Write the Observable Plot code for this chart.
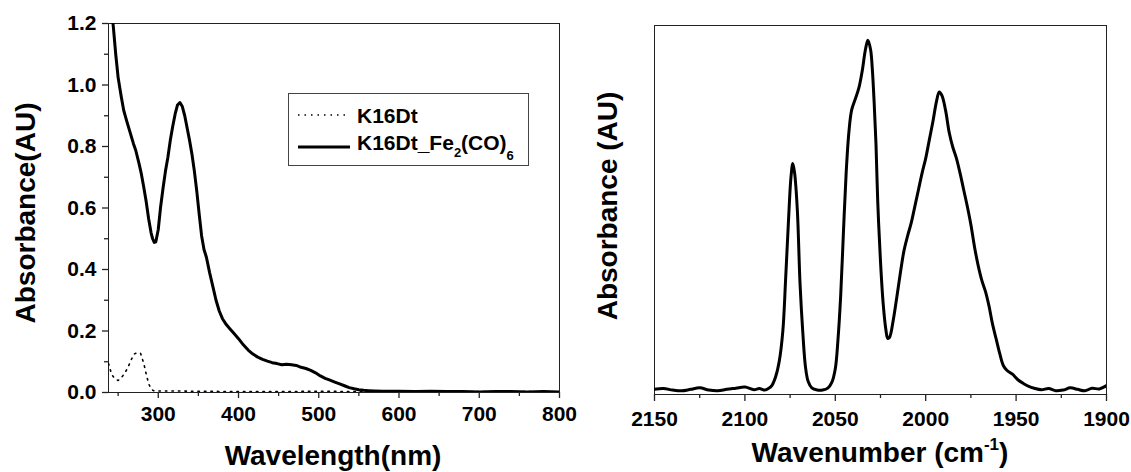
<!DOCTYPE html>
<html>
<head>
<meta charset="utf-8">
<script src="https://cdn.jsdelivr.net/npm/d3@7"></script>
<script src="https://cdn.jsdelivr.net/npm/@observablehq/plot@0.6"></script>
<style>
  html, body { margin: 0; padding: 0; background: #fff; }
  #wrap { display: flex; width: 1131px; height: 472px; background: #fff; }
  svg { display: block; }
</style>
</head>
<body>
<div id="wrap"></div>
<script>
// ---------- Left panel: UV-Vis ----------
const feWavelength = [238, 241, 244, 247, 250, 254, 257, 261, 265, 269, 272, 276, 279, 282, 285, 288, 291, 293, 295, 297, 300, 303, 306, 309, 312, 315, 318, 321, 324, 327, 330, 333, 336, 339, 342, 345, 348, 351, 354, 357, 360, 364, 368, 372, 376, 380, 385, 390, 395, 400, 406, 412, 418, 424, 430, 436, 442, 448, 454, 460, 466, 472, 478, 484, 490, 496, 502, 508, 514, 520, 526, 532, 538, 544, 550, 556, 562, 570, 580, 590, 600, 620, 640, 660, 680, 700, 720, 740, 760, 780, 800];
const feAbsorbance = [1.32, 1.26, 1.19, 1.10, 1.024, 0.96, 0.917, 0.88, 0.845, 0.81, 0.787, 0.745, 0.71, 0.667, 0.62, 0.565, 0.52, 0.50, 0.488, 0.49, 0.53, 0.605, 0.665, 0.72, 0.765, 0.82, 0.865, 0.905, 0.935, 0.943, 0.93, 0.90, 0.86, 0.82, 0.775, 0.72, 0.655, 0.58, 0.51, 0.465, 0.44, 0.39, 0.345, 0.30, 0.265, 0.24, 0.22, 0.205, 0.19, 0.175, 0.155, 0.138, 0.125, 0.115, 0.108, 0.102, 0.097, 0.094, 0.090, 0.092, 0.090, 0.088, 0.082, 0.078, 0.072, 0.064, 0.054, 0.046, 0.040, 0.034, 0.028, 0.022, 0.016, 0.012, 0.009, 0.007, 0.006, 0.005, 0.004, 0.004, 0.004, 0.003, 0.004, 0.003, 0.003, 0.002, 0.003, 0.003, 0.002, 0.003, 0.002];

const kWavelength = [238, 242, 246, 250, 254, 258, 262, 266, 270, 274, 278, 282, 285, 288, 291, 294, 298, 305, 320, 350, 400, 450, 500, 550, 600, 650, 700, 750, 800];
const kAbsorbance = [0.094, 0.058, 0.045, 0.039, 0.048, 0.062, 0.08, 0.105, 0.125, 0.13, 0.127, 0.094, 0.06, 0.029, 0.012, 0.006, 0.005, 0.005, 0.005, 0.004, 0.003, 0.003, 0.004, 0.003, 0.003, 0.002, 0.003, 0.003, 0.002];

const leftXTicks = [300, 400, 500, 600, 700, 800];
const leftXMinor = [250, 350, 450, 550, 650, 750];
const leftYTicks = [0, 0.2, 0.4, 0.6, 0.8, 1.0, 1.2];
const leftYMinor = [0.1, 0.3, 0.5, 0.7, 0.9, 1.1];

// ---------- Right panel: IR ----------
const wavenumber = [2150, 2145, 2140, 2135, 2130, 2125, 2120, 2115, 2110, 2105, 2100, 2095, 2092, 2089, 2087, 2085, 2083, 2081, 2079, 2077.5, 2076, 2074.5, 2073.5, 2072.5, 2071, 2069.5, 2068, 2066.5, 2065, 2063, 2060, 2057, 2054, 2052, 2050, 2048.5, 2047, 2045.5, 2044, 2042.5, 2041, 2039, 2037, 2035, 2033.5, 2032, 2030.5, 2029.5, 2028.5, 2027.5, 2026.5, 2025, 2023.5, 2022, 2021, 2020, 2018, 2016, 2014, 2012, 2010, 2008, 2006, 2004, 2002, 2000, 1998, 1996, 1994, 1992.5, 1991, 1989, 1987, 1985, 1983, 1981, 1979, 1977, 1975, 1973, 1971, 1969, 1967, 1965, 1963, 1961, 1959, 1957, 1955, 1952, 1949, 1946, 1943, 1940, 1936, 1932, 1928, 1924, 1920, 1916, 1912, 1908, 1904, 1900];
const irAbsorbance = [0.014, 0.016, 0.012, 0.010, 0.014, 0.018, 0.012, 0.010, 0.014, 0.017, 0.020, 0.013, 0.016, 0.012, 0.016, 0.025, 0.048, 0.09, 0.173, 0.31, 0.46, 0.59, 0.626, 0.60, 0.50, 0.30, 0.17, 0.075, 0.035, 0.018, 0.012, 0.012, 0.018, 0.032, 0.07, 0.15, 0.27, 0.44, 0.60, 0.71, 0.77, 0.80, 0.83, 0.88, 0.93, 0.96, 0.935, 0.88, 0.79, 0.68, 0.52, 0.36, 0.245, 0.175, 0.152, 0.155, 0.20, 0.263, 0.33, 0.39, 0.43, 0.465, 0.51, 0.555, 0.60, 0.64, 0.69, 0.74, 0.795, 0.82, 0.81, 0.77, 0.71, 0.67, 0.64, 0.60, 0.555, 0.51, 0.46, 0.40, 0.35, 0.31, 0.28, 0.24, 0.19, 0.15, 0.11, 0.078, 0.065, 0.055, 0.04, 0.03, 0.022, 0.017, 0.013, 0.016, 0.010, 0.012, 0.018, 0.014, 0.010, 0.017, 0.015, 0.024];

const rightXTicks = [2150, 2100, 2050, 2000, 1950, 1900];
const rightXMinor = [2125, 2075, 2025, 1975, 1925];

const FONT = "'Liberation Sans', Arial, Helvetica, sans-serif";
const baseStyle = {fontFamily: FONT, fontWeight: "bold", fontSize: "21px", color: "#000", background: "transparent", overflow: "visible"};

const feData = feWavelength.map((x, i) => ({x, y: feAbsorbance[i]}));
const kData = kWavelength.map((x, i) => ({x, y: kAbsorbance[i]}));
const irData = wavenumber.map((x, i) => ({x, y: irAbsorbance[i]}));

const left = Plot.plot({
  width: 570, height: 472,
  marginLeft: 108, marginRight: 11, marginTop: 23, marginBottom: 80,
  style: baseStyle,
  x: {domain: [238, 800]},
  y: {domain: [0, 1.2]},
  marks: [
    Plot.frame({stroke: "#222", strokeWidth: 1}),
    Plot.axisX(leftXMinor, {tickSize: 4, tickFormat: () => "", label: null, stroke: "#222", strokeWidth: 1.3}),
    Plot.axisX(leftXTicks, {tickSize: 6, tickPadding: 8, tickFormat: d3.format("d"), label: null, stroke: "#222", strokeWidth: 1.3, fill: "#000"}),
    Plot.axisY(leftYMinor, {tickSize: 4, tickFormat: () => "", label: null, stroke: "#222", strokeWidth: 1.3}),
    Plot.axisY(leftYTicks, {tickSize: 6, tickPadding: 6, tickFormat: d3.format(".1f"), label: null, stroke: "#222", strokeWidth: 1.3, fill: "#000"}),
    Plot.line(kData, {x: "x", y: "y", stroke: "#000", strokeWidth: 1.6, strokeDasharray: "1.5,5", clip: true}),
    Plot.line(feData, {x: "x", y: "y", stroke: "#000", strokeWidth: 3, clip: true})
  ]
});

const right = Plot.plot({
  width: 561, height: 472,
  marginLeft: 84, marginRight: 25, marginTop: 25, marginBottom: 78,
  style: baseStyle,
  x: {domain: [2150, 1900]},
  y: {domain: [0, 1], axis: null},
  marks: [
    Plot.frame({stroke: "#222", strokeWidth: 1}),
    Plot.axisX(rightXMinor, {tickSize: 4, tickFormat: () => "", label: null, stroke: "#222", strokeWidth: 1.3}),
    Plot.axisX(rightXTicks, {tickSize: 7, tickPadding: 10, tickFormat: d3.format("d"), label: null, stroke: "#222", strokeWidth: 1.3, fill: "#000"}),
    Plot.line(irData, {x: "x", y: "y", stroke: "#000", strokeWidth: 3, curve: "catmull-rom", clip: true})
  ]
});

document.getElementById("wrap").append(left, right);

// ---------- titles ----------
const sL = d3.select(left), sR = d3.select(right);
function title(sel, x, y, rot, txt) {
  return sel.append("text")
    .attr("transform", `translate(${x},${y})` + (rot ? " rotate(-90)" : ""))
    .attr("text-anchor", "middle")
    .attr("font-family", FONT).attr("font-weight", "bold").attr("font-size", 28)
    .attr("fill", "#000").text(txt);
}
title(sL, 333, 465, false, "Wavelength(nm)");
title(sL, 35, 213, true, "Absorbance(AU)");
title(sR, 47, 206, true, "Absorbance (AU)");
const xt = title(sR, 310, 462, false, "Wavenumber (cm");
xt.append("tspan").attr("font-size", 17).attr("dy", -12).text("-1");
xt.append("tspan").attr("dy", 12).text(")");

// ---------- legend ----------
const lg = sL.append("g").attr("font-family", FONT).attr("font-weight", "bold").attr("font-size", 21).attr("fill", "#000").attr("text-anchor", "start");
lg.append("rect").attr("x", 288.5).attr("y", 93.5).attr("width", 240).attr("height", 72).attr("fill", "#fff").attr("stroke", "#444");
lg.append("line").attr("x1", 298).attr("x2", 350).attr("y1", 115).attr("y2", 115).attr("stroke", "#000").attr("stroke-width", 1.6).attr("stroke-dasharray", "1.5,5");
lg.append("line").attr("x1", 298).attr("x2", 350).attr("y1", 147).attr("y2", 147).attr("stroke", "#000").attr("stroke-width", 3);
lg.append("text").attr("x", 357).attr("y", 123).attr("text-anchor", "start").text("K16Dt");
const t2 = lg.append("text").attr("x", 357).attr("y", 150).attr("text-anchor", "start").text("K16Dt_Fe");
t2.append("tspan").attr("font-size", 13).attr("dy", 7).text("2");
t2.append("tspan").attr("dy", -7).text("(CO)");
t2.append("tspan").attr("font-size", 13).attr("dy", 10).text("6");
</script>
</body>
</html>
